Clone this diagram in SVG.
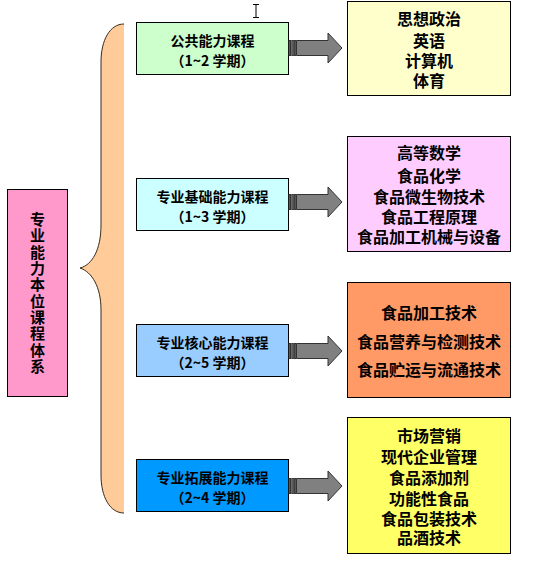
<svg xmlns="http://www.w3.org/2000/svg" xmlns:xlink="http://www.w3.org/1999/xlink" width="536" height="561" viewBox="0 0 536 561">
<style>
  .box { stroke: #000; stroke-width: 1; }
  .t { font-family: "Noto Sans CJK SC", "Liberation Sans", sans-serif; font-weight: bold; text-anchor: middle; dominant-baseline: central; fill: #000; }
  .mid { font-size: 14px; }
  .big { font-size: 16px; }
  .vert { font-family: "Noto Sans CJK SC", "Liberation Sans", sans-serif; font-weight: bold; font-size: 15px; writing-mode: vertical-rl; letter-spacing: 1.3px; fill: #000; }
  .arr { fill: #808080; stroke: #333; stroke-width: 1; }
</style>
<defs>
  <g id="arrow">
    <rect class="arr" x="289" y="-7.5" width="1.5" height="15"/>
    <rect class="arr" x="291.8" y="-7.5" width="1.5" height="15"/>
    <rect class="arr" x="294.4" y="-7.5" width="1.5" height="15"/>
    <path class="arr" d="M296.5,-7.5 H328 V-15 L342,0 L328,15 V7.5 H296.5 Z"/>
  </g>
</defs>
<rect width="536" height="561" fill="#fff"/>

<g id="brace">
  <path d="M124,24 C110,24 101,40 101,62 L101,225 C101,250 92,265 80,268 C92,272 101,287 101,310 L101,475 C101,497 110,513 124,513 Z" fill="#FFCC99"/>
  <path d="M124,24 C110,24 101,40 101,62 L101,225 C101,250 92,265 80,268 C92,272 101,287 101,310 L101,475 C101,497 110,513 124,513" fill="none" stroke="#3a2a1a" stroke-width="1"/>
</g>

<g id="root">
  <rect class="box" x="7.5" y="189.5" width="60" height="207" fill="#FF99CC"/>
  <text class="vert" x="37.5" y="212">专业能力本位课程体系</text>
</g>

<g id="public">
  <rect class="box" x="136.5" y="22.5" width="152" height="52" fill="#CCFFCC"/>
  <text class="t mid" x="212.5" y="40">公共能力课程</text>
  <text class="t mid" x="212.5" y="60">（1~2 学期）</text>
</g>
<g id="basic">
  <rect class="box" x="136.5" y="178.5" width="152" height="52" fill="#CCFFFF"/>
  <text class="t mid" x="212.5" y="196">专业基础能力课程</text>
  <text class="t mid" x="212.5" y="216">（1~3 学期）</text>
</g>
<g id="core">
  <rect class="box" x="136.5" y="324.5" width="152" height="52" fill="#99CCFF"/>
  <text class="t mid" x="212.5" y="342">专业核心能力课程</text>
  <text class="t mid" x="212.5" y="362">（2~5 学期）</text>
</g>
<g id="expand">
  <rect class="box" x="136.5" y="459.5" width="152" height="52" fill="#0099FF"/>
  <text class="t mid" x="212.5" y="477">专业拓展能力课程</text>
  <text class="t mid" x="212.5" y="497">（2~4 学期）</text>
</g>

<g id="connectors">
  <use xlink:href="#arrow" transform="translate(0,48)"/>
  <use xlink:href="#arrow" transform="translate(0,202)"/>
  <use xlink:href="#arrow" transform="translate(0,351)"/>
  <use xlink:href="#arrow" transform="translate(0,486)"/>
</g>

<g id="list1">
  <rect class="box" x="347.5" y="1.5" width="163" height="94" fill="#FFFFCC"/>
  <text class="t big" x="429" y="18">思想政治</text>
  <text class="t big" x="429" y="40">英语</text>
  <text class="t big" x="429" y="60">计算机</text>
  <text class="t big" x="429" y="80">体育</text>
</g>
<g id="list2">
  <rect class="box" x="347.5" y="136.5" width="163" height="115" fill="#FFCCFF"/>
  <text class="t big" x="429" y="152">高等数学</text>
  <text class="t big" x="429" y="175">食品化学</text>
  <text class="t big" x="429" y="196">食品微生物技术</text>
  <text class="t big" x="429" y="216">食品工程原理</text>
  <text class="t big" x="429" y="236">食品加工机械与设备</text>
</g>
<g id="list3">
  <rect class="box" x="347.5" y="282.5" width="163" height="115" fill="#FF9966"/>
  <text class="t big" x="429" y="312">食品加工技术</text>
  <text class="t big" x="429" y="341">食品营养与检测技术</text>
  <text class="t big" x="429" y="369">食品贮运与流通技术</text>
</g>
<g id="list4">
  <rect class="box" x="347.5" y="417.5" width="163" height="136" fill="#FFFF66"/>
  <text class="t big" x="429" y="435">市场营销</text>
  <text class="t big" x="429" y="456">现代企业管理</text>
  <text class="t big" x="429" y="477">食品添加剂</text>
  <text class="t big" x="429" y="498">功能性食品</text>
  <text class="t big" x="429" y="518">食品包装技术</text>
  <text class="t big" x="429" y="537">品酒技术</text>
</g>

<g id="cursor" stroke="#000" stroke-width="1" fill="none">
  <path d="M253,4.5 H259 M256,4.5 V17.5 M253,17.5 H259"/>
</g>
</svg>
